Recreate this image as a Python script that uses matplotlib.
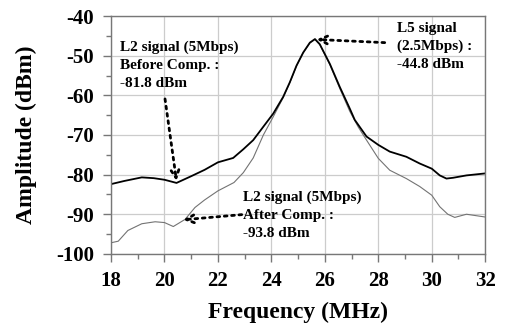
import matplotlib.pyplot as plt
import numpy as np

plt.rcParams['axes.unicode_minus'] = False

# spectrum traces
freq_before = [18.0, 18.5, 19.15, 19.6, 20.0, 20.45, 21.0, 21.5, 22.0, 22.57, 22.95, 23.32,
               23.7, 24.07, 24.44, 24.69, 24.94, 25.19, 25.44, 25.63, 25.81, 26.19, 26.56,
               26.93, 27.12, 27.56, 28.0, 28.43, 29.05, 29.55, 30.0, 30.3, 30.55, 30.8,
               31.3, 32.0]
amp_before = [-82.4, -81.6, -80.7, -80.9, -81.3, -82.1, -80.4, -78.8, -76.9, -75.8, -73.6, -71.3,
              -67.9, -64.6, -60.4, -56.7, -52.5, -49.2, -46.7, -45.8, -47.1, -52.1, -57.9,
              -63.3, -66.2, -70.4, -72.5, -74.2, -75.5, -77.2, -78.5, -80.2, -81.0, -80.8,
              -80.2, -79.7]

freq_after = [18.0, 18.27, 18.63, 19.15, 19.65, 20.0, 20.33, 20.77, 21.14, 21.5, 22.0, 22.6,
              22.95, 23.32, 23.7, 24.07, 24.44, 24.69, 24.94, 25.19, 25.44, 25.63, 25.81,
              26.19, 26.56, 26.93, 27.25, 27.56, 28.0, 28.43, 29.05, 29.55, 30.0, 30.3,
              30.6, 30.86, 31.3, 32.0]
amp_after = [-97.2, -96.8, -94.1, -92.4, -91.9, -92.1, -93.1, -91.3, -88.3, -86.4, -84.1, -82.0,
             -79.5, -75.8, -70.0, -65.4, -60.6, -56.8, -52.6, -49.3, -46.8, -45.9, -47.2,
             -52.3, -58.3, -64.0, -68.0, -71.3, -75.9, -78.9, -81.0, -83.0, -85.2, -88.1,
             -90.0, -90.8, -90.0, -90.7]

font = 'Liberation Serif'

fig = plt.figure(figsize=(5.07, 3.28), dpi=100)
ax = fig.add_axes([0.219, 0.226, 0.738, 0.725])

ax.plot(freq_after, amp_after, color='0.45', lw=0.8)
ax.plot(freq_before, amp_before, color='black', lw=1.3)

ax.set_xlim(18, 32)
ax.set_ylim(-100, -40)
ax.set_xticks(np.arange(18, 33, 2))
ax.set_xticks(np.arange(19, 32, 2), minor=True)
ax.set_yticks(np.arange(-100, -39, 10))
ax.set_yticks(np.arange(-95, -40, 10), minor=True)
ax.grid(True, which='major', color='#cccccc', lw=0.9)
ax.set_axisbelow(True)
for s in ax.spines.values():
    s.set_color('#777777')
    s.set_linewidth(1.0)
ax.tick_params(which='major', direction='out', length=6, width=1, color='#777777', pad=6)
ax.tick_params(which='minor', direction='out', length=3.5, width=1, color='#777777')
for lab in ax.get_xticklabels() + ax.get_yticklabels():
    lab.set_fontfamily(font)
    lab.set_fontweight('bold')
    lab.set_fontsize(15)

ax.set_xlabel('Frequency (MHz)', family=font, weight='bold', fontsize=17, labelpad=8)
ax.set_ylabel('Amplitude (dBm)', family=font, weight='bold', fontsize=17, labelpad=14)

txt = dict(family=font, weight='bold', fontsize=11, linespacing=1.5, va='top', ha='left')
arw = dict(arrowstyle='->', linestyle=':', lw=2.0, color='black', mutation_scale=14,
           shrinkA=0, shrinkB=0)

ax.text(18.32, -46.2, 'L2 signal (5Mbps)\nBefore Comp. :\n-81.8 dBm', **txt)
ax.annotate('', xy=(20.45, -81.6), xytext=(20.02, -60.9), arrowprops=arw)

ax.text(28.7, -41.4, 'L5 signal\n(2.5Mbps) :\n-44.8 dBm', **txt)
ax.annotate('', xy=(25.69, -45.9), xytext=(28.24, -46.7), arrowprops=arw)

ax.text(22.95, -84.0, 'L2 signal (5Mbps)\nAfter Comp. :\n-93.8 dBm', **txt)
ax.annotate('', xy=(20.7, -91.4), xytext=(22.89, -90.1), arrowprops=arw)

fig.savefig('out.png', dpi=100)
